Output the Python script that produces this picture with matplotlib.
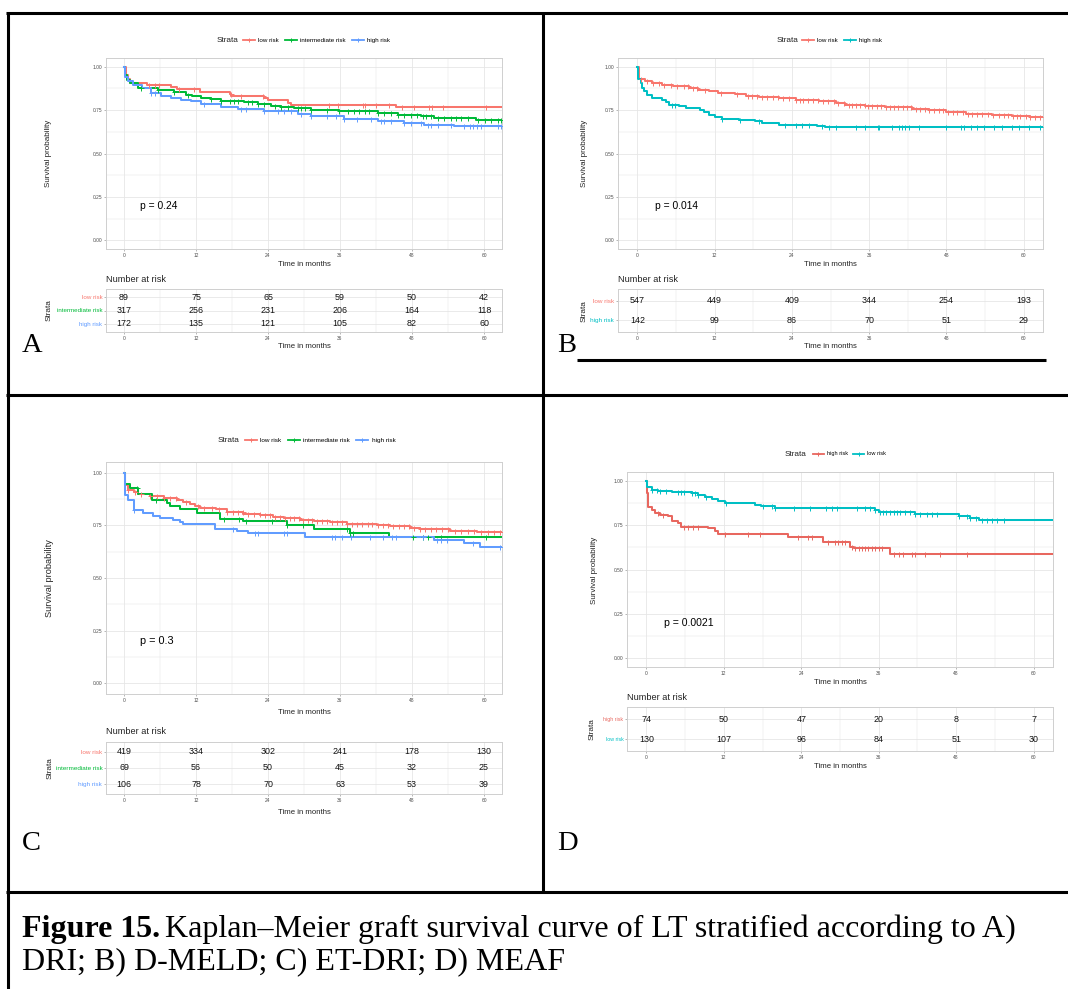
import numpy as np
import matplotlib
matplotlib.use('Agg')
import matplotlib.pyplot as plt
from matplotlib.lines import Line2D
from matplotlib.ticker import MultipleLocator

plt.rcParams['font.family'] = ['Liberation Sans', 'DejaVu Sans']

W, H = 1068, 989
RED, GREEN, BLUE, CYAN = '#F8766D', '#00BA38', '#619CFF', '#00BFC4'
TICKS = [0, 12, 24, 36, 48, 60]

# ---------------- A) DRI ----------------
a_labels = ['low risk', 'intermediate risk', 'high risk']
a_colors = [RED, GREEN, BLUE]
a_low_t = [0, 0.3, 0.6, 1.0, 3.9, 7.8, 8.9, 12.6, 17.6, 17.9, 23.4, 24.0, 25.6, 27.3, 27.8, 45.3, 63]
a_low_s = [1.0, 0.95, 0.93, 0.906, 0.893, 0.881, 0.870, 0.856, 0.845, 0.833, 0.82, 0.81, 0.806, 0.79, 0.78, 0.766, 0.766]
a_int_t = [0, 0.2, 0.5, 1.0, 2.3, 5.6, 8.4, 10.3, 11.4, 12.8, 14.5, 16.2, 20.0, 22.3, 24.5, 26.2, 28.4,
           31.2, 35.9, 42.3, 45.6, 49.5, 51.7, 58.7, 63]
a_int_s = [1.0, 0.95, 0.925, 0.905, 0.877, 0.864, 0.853, 0.839, 0.83, 0.82, 0.814, 0.805, 0.795, 0.787,
           0.776, 0.768, 0.76, 0.753, 0.743, 0.734, 0.724, 0.715, 0.703, 0.695, 0.695]
a_high_t = [0, 0.2, 0.6, 1.5, 3.0, 4.5, 6.2, 7.8, 9.5, 11.2, 12.8, 16.2, 19.0, 23.4, 29.0, 31.2, 36.7,
            42.3, 46.7, 50.0, 55.0, 63]
a_high_s = [1.0, 0.94, 0.92, 0.897, 0.88, 0.849, 0.833, 0.822, 0.81, 0.80, 0.785, 0.77, 0.757, 0.743,
            0.728, 0.715, 0.701, 0.69, 0.676, 0.667, 0.657, 0.657]
a_low_c = [4.2, 5.2, 5.9, 9.2, 11.7, 17.8, 19.5, 23.1, 34.2, 35.6, 39.8, 40.1, 42.0, 44.2, 46.4, 48.4,
           50.9, 51.4, 53.1, 60.3]
a_int_c = [2.8, 5.6, 8.4, 10.6, 14.5, 16.2, 17.6, 18.4, 19.0, 20.6, 21.4, 22.3, 23.4, 25.1, 26.2, 27.3,
           29.0, 29.5, 30.1, 31.2, 33.9, 35.9, 37.3, 38.4, 39.2, 40.1, 40.9, 42.3, 43.4, 44.5, 45.6, 46.7,
           47.8, 48.9, 49.8, 50.3, 51.2, 52.3, 53.4, 54.5, 55.3, 56.2, 57.3, 59.0, 60.1, 61.2, 62.3, 62.8]
a_high_c = [4.5, 5.1, 13.4, 19.5, 20.3, 23.4, 25.6, 26.7, 27.8, 29.5, 31.2, 33.9, 35.3, 36.7, 38.9, 41.2,
            42.8, 43.4, 44.5, 46.7, 47.8, 49.5, 50.6, 51.2, 52.3, 54.5, 56.7, 57.6, 58.1, 58.9, 59.5, 62.3, 62.8]
a_risk = [[89, 75, 65, 59, 50, 42], [317, 256, 231, 206, 164, 118], [172, 135, 121, 105, 82, 60]]

# ---------------- B) D-MELD ----------------
b_labels = ['low risk', 'high risk']
b_colors = [RED, CYAN]
b_low_t = [0, 0.3, 1.2, 2.3, 3.8, 5.6, 8.0, 9.5, 11.1, 12.6, 15.2, 16.8, 18.9, 22.0, 24.6, 28.2, 30.8,
           32.3, 35.4, 38.5, 42.7, 45.3, 47.9, 51.0, 55.1, 58.2, 61.0, 63]
b_low_s = [1.0, 0.931, 0.916, 0.906, 0.897, 0.887, 0.877, 0.868, 0.858, 0.849, 0.843, 0.833, 0.824, 0.818,
           0.81, 0.80, 0.791, 0.782, 0.772, 0.766, 0.759, 0.749, 0.739, 0.73, 0.724, 0.716, 0.713, 0.713]
b_high_t = [0, 0.1, 0.5, 0.7, 1.0, 1.5, 2.3, 3.8, 4.4, 4.9, 6.4, 7.5, 9.8, 10.3, 11.1, 12.1, 13.2, 15.8,
            18.3, 19.4, 22.0, 27.9, 29.2, 63]
b_high_s = [1.0, 0.93, 0.906, 0.877, 0.858, 0.839, 0.82, 0.81, 0.795, 0.782, 0.772, 0.762, 0.753, 0.738,
            0.724, 0.711, 0.699, 0.692, 0.686, 0.676, 0.667, 0.661, 0.651, 0.651]
b_low_c = [0.5, 1.5, 2.5, 3.4, 4.2, 5.2, 6.1, 7.3, 7.9, 8.6, 9.3, 10.5, 13.0, 15.5, 17.2, 17.8, 18.6, 19.4,
           20.1, 21.0, 21.8, 22.6, 23.5, 24.6, 25.2, 25.8, 26.5, 27.3, 28.1, 28.9, 29.6, 30.5, 31.2, 32.1,
           32.8, 33.4, 34.0, 34.6, 35.3, 35.9, 36.5, 37.2, 37.9, 38.6, 39.2, 39.8, 40.5, 41.2, 41.9, 42.5,
           43.2, 43.9, 44.6, 45.3, 46.0, 46.8, 47.5, 48.3, 49.0, 49.7, 50.5, 51.3, 52.0, 52.8, 53.6, 54.4,
           55.3, 56.2, 57.0, 57.6, 58.3, 58.9, 59.5, 60.3, 61.0, 61.8, 62.5]
b_high_c = [5.4, 5.9, 13.2, 16.0, 18.9, 23.0, 24.6, 25.6, 26.6, 28.7, 29.7, 30.8, 33.9, 35.4, 37.3, 37.5,
            39.6, 40.6, 41.1, 41.6, 42.2, 43.7, 47.9, 50.2, 50.7, 51.8, 52.8, 53.8, 55.4, 56.7, 58.2, 59.3,
            60.8, 62.6]
b_risk = [[547, 449, 409, 344, 254, 193], [142, 99, 86, 70, 51, 29]]

# ---------------- C) ET-DRI ----------------
c_labels = ['low risk', 'intermediate risk', 'high risk']
c_colors = [RED, GREEN, BLUE]
c_low_t = [0, 0.1, 0.7, 1.6, 2.4, 4.3, 6.6, 8.8, 9.9, 11.0, 11.8, 12.7, 15.4, 17.1, 19.9, 22.7, 24.9,
           26.6, 29.3, 31.6, 34.3, 37.1, 42.1, 44.3, 47.7, 49.3, 54.3, 58.8, 63]
c_low_s = [1.0, 0.94, 0.917, 0.91, 0.898, 0.89, 0.877, 0.87, 0.86, 0.85, 0.84, 0.83, 0.825, 0.815, 0.805,
           0.80, 0.79, 0.785, 0.775, 0.77, 0.765, 0.755, 0.75, 0.745, 0.735, 0.73, 0.725, 0.72, 0.72]
c_int_t = [0, 0.1, 1.0, 2.4, 4.6, 7.1, 7.7, 9.3, 12.1, 16.0, 19.9, 27.1, 31.6, 37.7, 44.1, 63]
c_int_s = [1.0, 0.948, 0.928, 0.898, 0.872, 0.854, 0.841, 0.825, 0.809, 0.781, 0.770, 0.750, 0.734, 0.715,
           0.693, 0.693]
c_high_t = [0, 0.1, 0.7, 1.6, 3.2, 4.9, 6.0, 8.2, 9.3, 9.9, 15.2, 18.8, 20.7, 30.2, 31.3, 51.6, 56.6, 59.3, 63]
c_high_s = [1.0, 0.893, 0.87, 0.822, 0.81, 0.795, 0.785, 0.775, 0.765, 0.755, 0.732, 0.723, 0.712, 0.696,
            0.693, 0.68, 0.665, 0.649, 0.649]
c_low_c = [0.7, 1.8, 2.9, 4.3, 5.5, 6.6, 7.7, 8.6, 10.4, 12.3, 13.4, 14.6, 15.8, 17.1, 18.1, 19.0, 19.8,
           20.7, 21.6, 22.6, 23.5, 24.3, 25.1, 26.0, 26.9, 27.6, 28.4, 29.1, 29.9, 30.6, 31.4, 32.2, 33.0,
           33.8, 34.6, 35.5, 36.3, 37.2, 38.0, 38.9, 39.7, 40.6, 41.4, 42.3, 43.2, 44.0, 44.9, 45.8, 46.6,
           47.5, 48.4, 49.3, 50.2, 51.1, 52.0, 53.0, 54.0, 55.1, 56.2, 57.3, 58.4, 59.5, 60.6, 61.7, 62.6]
c_int_c = [2.1, 5.4, 16.6, 19.1, 20.4, 24.6, 27.1, 29.9, 37.1, 37.7, 38.2, 48.2, 49.9, 50.7, 52.9, 60.4]
c_high_c = [1.6, 18.2, 21.8, 22.4, 26.6, 27.1, 34.6, 35.2, 36.3, 37.9, 41.0, 43.2, 44.6, 45.4, 49.9, 52.1,
            52.9, 53.8, 58.2, 62.7]
c_risk = [[419, 334, 302, 241, 178, 130], [69, 56, 50, 45, 32, 25], [106, 78, 70, 63, 53, 39]]

# ---------------- D) MEAF ----------------
d_labels = ['high risk', 'low risk']
d_colors = ['#E8675F', CYAN]
d_high_t = [0, 0.1, 0.26, 0.8, 1.3, 2.1, 3.4, 3.9, 4.9, 5.4, 9.6, 10.6, 11.1, 22.0, 27.4, 31.6, 32.1, 37.8, 63]
d_high_s = [1.0, 0.929, 0.855, 0.835, 0.82, 0.81, 0.80, 0.775, 0.76, 0.74, 0.732, 0.717, 0.70, 0.685,
            0.655, 0.629, 0.62, 0.588, 0.588]
d_low_t = [0, 0.1, 0.8, 1.8, 2.3, 3.9, 7.0, 8.0, 9.1, 10.1, 11.1, 12.2, 16.8, 17.8, 19.9, 35.4, 36.0,
           41.6, 48.4, 50.2, 51.5, 63]
d_low_s = [1.0, 0.963, 0.951, 0.945, 0.94, 0.935, 0.93, 0.92, 0.91, 0.899, 0.888, 0.873, 0.863, 0.858,
           0.848, 0.835, 0.826, 0.813, 0.801, 0.79, 0.777, 0.777]
d_high_c = [1.8, 2.6, 5.9, 6.5, 7.2, 8.0, 12.2, 15.8, 17.6, 23.5, 25.1, 25.6, 28.2, 29.2, 29.7, 30.3, 30.8,
            31.8, 32.3, 32.9, 33.4, 33.9, 34.4, 34.9, 35.4, 36.0, 36.5, 38.3, 39.1, 39.8, 41.1, 41.6, 43.2,
            45.5, 49.7]
d_low_c = [0.8, 1.6, 2.1, 3.1, 4.9, 5.4, 5.9, 7.0, 7.5, 8.0, 9.3, 12.4, 18.1, 19.4, 19.9, 22.8, 25.4, 27.9,
           28.7, 29.5, 32.6, 33.9, 34.7, 35.4, 36.2, 36.7, 37.2, 37.8, 38.3, 38.8, 39.3, 40.1, 40.9, 41.6,
           42.4, 43.5, 44.2, 45.0, 48.4, 49.7, 50.2, 51.0, 52.0, 52.8, 53.6, 54.4, 55.4]
d_risk = [[74, 50, 47, 20, 8, 7], [130, 107, 96, 84, 51, 30]]

panels = [
    dict(labels=a_labels, colors=a_colors, t=[a_low_t, a_int_t, a_high_t], s=[a_low_s, a_int_s, a_high_s],
         c=[a_low_c, a_int_c, a_high_c], risk=a_risk, pval='p = 0.24', letter='A'),
    dict(labels=b_labels, colors=b_colors, t=[b_low_t, b_high_t], s=[b_low_s, b_high_s],
         c=[b_low_c, b_high_c], risk=b_risk, pval='p = 0.014', letter='B'),
    dict(labels=c_labels, colors=c_colors, t=[c_low_t, c_int_t, c_high_t], s=[c_low_s, c_int_s, c_high_s],
         c=[c_low_c, c_int_c, c_high_c], risk=c_risk, pval='p = 0.3', letter='C'),
    dict(labels=d_labels, colors=d_colors, t=[d_high_t, d_low_t], s=[d_high_s, d_low_s],
         c=[d_high_c, d_low_c], risk=d_risk, pval='p = 0.0021', letter='D'),
]

# pixel layout of each panel
layouts = [
    dict(main=(106, 58, 502, 249), table=(106, 289, 502, 332), leg=(217, 40, 243), ylab=(49, 153),
         xlab=(304, 265), nar=(106, 280), tstrata=(49, 310), txlab=(304, 347), letter=(22, 345),
         lfs=4.5, sfs=4.5, yfs=5.8, pfs=7.4),
    dict(main=(618, 58, 1043, 249), table=(618, 289, 1043, 332), leg=(777, 40, 802), ylab=(584, 153),
         xlab=(830, 265), nar=(618, 280), tstrata=(584, 311), txlab=(830, 347), letter=(557, 345),
         lfs=4.5, sfs=4.6, yfs=5.8, pfs=7.4),
    dict(main=(106, 462, 502, 694), table=(106, 742, 502, 794), leg=(218, 440, 245), ylab=(50, 578),
         xlab=(304, 712), nar=(106, 732), tstrata=(50, 768), txlab=(304, 812), letter=(22, 843),
         lfs=4.6, sfs=4.6, yfs=6.6, pfs=7.8),
    dict(main=(627, 472, 1053, 667), table=(627, 707, 1053, 751), leg=(785, 454, 813), ylab=(594, 570),
         xlab=(840, 682), nar=(627, 698), tstrata=(592, 729), txlab=(840, 766), letter=(557, 843),
         lfs=4.1, sfs=3.8, yfs=5.8, pfs=7.6),
]

GRID = '#E6E6E6'
EDGE = '#CFCFCF'
TXT = '#4D4D4D'

fig = plt.figure(figsize=(W / 100, H / 100), dpi=100)
fig.patch.set_facecolor('white')


def box(l, t, r, b):
    return [l / W, 1 - b / H, (r - l) / W, (b - t) / H]


def style(ax):
    for sp in ax.spines.values():
        sp.set_color(EDGE)
        sp.set_linewidth(0.7)
    ax.tick_params(which='major', length=1.5, width=0.5, color='#9A9A9A', labelsize=3.5,
                   labelcolor=TXT, pad=1.2)
    ax.tick_params(which='minor', length=0)
    ax.grid(which='major', color=GRID, lw=0.6)
    ax.grid(which='minor', color=GRID, lw=0.35)
    ax.set_axisbelow(True)
    ax.set_xlim(-3, 63)
    ax.set_xticks(TICKS)
    ax.xaxis.set_minor_locator(MultipleLocator(6))


canvas = fig.add_axes([0, 0, 1, 1], zorder=5)
canvas.set_xlim(0, W)
canvas.set_ylim(H, 0)
canvas.axis('off')
canvas.patch.set_alpha(0)

for p, lay in zip(panels, layouts):
    # survival curves
    ax = fig.add_axes(box(*lay['main']))
    for t, s, c, col in zip(p['t'], p['s'], p['c'], p['colors']):
        ax.step(t, s, where='post', color=col, lw=1.45, zorder=3)
        idx = np.searchsorted(t, c, side='right') - 1
        ax.plot(c, np.array(s)[idx], ls='none', marker='+', color=col, ms=3.6, mew=0.7, zorder=4)
    style(ax)
    ax.set_ylim(-0.05, 1.05)
    ax.set_yticks([0, 0.25, 0.5, 0.75, 1.0])
    ax.set_yticklabels(['0.00', '0.25', '0.50', '0.75', '1.00'])
    ax.yaxis.set_minor_locator(MultipleLocator(0.125))
    ax.text(2.7, 0.2, p['pval'], fontsize=lay['pfs'], va='center', ha='left')

    # legend
    handles = [Line2D([], [], color=col, lw=1.3, marker='+', ms=3.5, mew=0.7) for col in p['colors']]
    lx, ly, hx = lay['leg']
    canvas.text(lx, ly, 'Strata', fontsize=5.9, va='center', ha='left', color='#222222')
    fig.legend(handles, p['labels'], loc='center left', bbox_to_anchor=(hx / W, 1 - ly / H),
               ncol=len(handles), frameon=False, fontsize=lay['lfs'], handlelength=1.9,
               handletextpad=0.5, columnspacing=1.0, borderpad=0, borderaxespad=0, numpoints=1)

    canvas.text(*lay['ylab'], 'Survival probability', rotation=90, fontsize=lay['yfs'], ha='center',
                va='center', color='#222222')
    canvas.text(*lay['xlab'], 'Time in months', fontsize=5.6, ha='center', va='center', color='#222222')

    # risk table
    n = len(p['risk'])
    tb = fig.add_axes(box(*lay['table']))
    style(tb)
    tb.set_ylim(n + 0.6, 0.4)
    tb.set_yticks(range(1, n + 1))
    tb.set_yticklabels(p['labels'], fontsize=lay['sfs'])
    for lbl, col in zip(tb.get_yticklabels(), p['colors']):
        lbl.set_color(col)
    for row, vals in enumerate(p['risk'], start=1):
        for x, v in zip(TICKS, vals):
            tb.text(x, row, str(v), ha='center', va='center', fontsize=6.4, color='#111111')
    canvas.text(*lay['nar'], 'Number at risk', fontsize=6.6, ha='left', va='center', color='#222222')
    canvas.text(*lay['tstrata'], 'Strata', rotation=90, fontsize=5.9, ha='center', va='center', color='#222222')
    canvas.text(*lay['txlab'], 'Time in months', fontsize=5.6, ha='center', va='center', color='#222222')

    canvas.text(*lay['letter'], p['letter'], fontsize=20.5, family='Liberation Serif', ha='left', va='center')

# table borders
k = dict(color='black', lw=2.2, solid_capstyle='butt')
canvas.plot([6, W], [12.5, 12.5], **k)
canvas.plot([7.5, 7.5], [11.5, H], **k)
canvas.plot([543, 543], [11.5, 892], **k)
canvas.plot([6, W], [395, 395], **k)
canvas.plot([6, W], [892, 892], **k)
canvas.plot([577, 1046], [360, 360], **k)

# caption
cap_fs = 23
bold = canvas.text(22, 929, 'Figure 15.', fontsize=cap_fs, family='Liberation Serif', fontweight='bold',
                   ha='left', va='center')
ext = bold.get_window_extent(renderer=fig.canvas.get_renderer())
canvas.text(ext.x1 + 5, 929, 'Kaplan\u2013Meier graft survival curve of LT stratified according to A)',
            fontsize=cap_fs, family='Liberation Serif', ha='left', va='center')
canvas.text(22, 962, 'DRI; B) D-MELD; C) ET-DRI; D) MEAF', fontsize=cap_fs, family='Liberation Serif',
            ha='left', va='center')

fig.savefig('out.png', dpi=100)
